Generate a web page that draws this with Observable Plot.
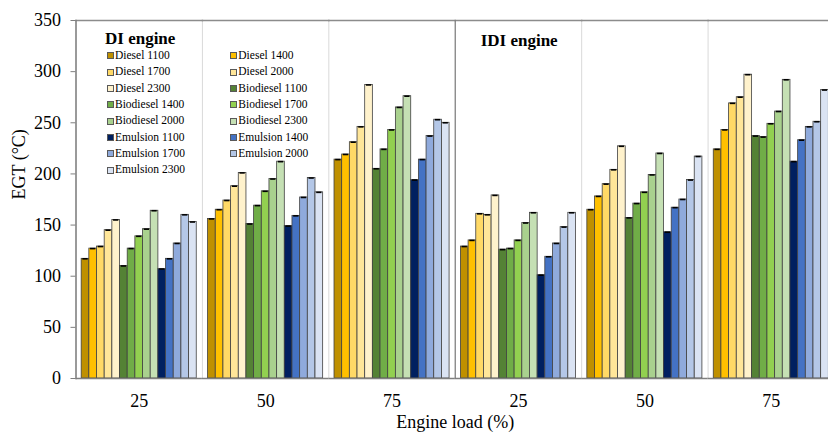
<!DOCTYPE html>
<html><head><meta charset="utf-8">
<script src="https://cdn.jsdelivr.net/npm/d3@7"></script>
<script src="https://cdn.jsdelivr.net/npm/@observablehq/plot@0.6"></script>
<style>
body{margin:0;background:#fff;}
#wrap{position:relative;width:828px;height:433px;font-family:"Liberation Serif","Times New Roman",serif;color:#000;}
#wrap svg{position:absolute;left:0;top:0;}
.leg{position:absolute;font-size:11.5px;line-height:1;white-space:nowrap;}
.sw{position:absolute;width:5px;height:5px;border:1px solid #595959;}
.ttl{position:absolute;font-weight:bold;font-size:17px;line-height:1;white-space:nowrap;}
</style></head><body><div id="wrap"></div>
<script>
// ---- data ----
const groups = ["DI 25", "DI 50", "DI 75", "IDI 25", "IDI 50", "IDI 75"];
const groupLabels = ["25", "50", "75", "25", "50", "75"];
const fuels = ["Diesel", "Biodiesel", "Emulsion"];
const speeds = [1100, 1400, 1700, 2000, 2300];
// rows: groups, columns: speeds
const diesel = [
  [117, 127, 129, 145, 155],
  [156, 165, 174, 188, 201],
  [214, 219, 231, 246, 287],
  [129, 135, 161, 160, 179],
  [165, 178, 190, 204, 227],
  [224, 243, 269, 275, 297]
];
const biodiesel = [
  [110, 127, 139, 146, 164],
  [151, 169, 183, 195, 212],
  [205, 224, 243, 265, 276],
  [126, 127, 135, 152, 162],
  [157, 171, 182, 199, 220],
  [237, 236, 249, 261, 292]
];
const emulsion = [
  [107, 117, 132, 160, 153],
  [149, 159, 177, 196, 182],
  [194, 214, 237, 253, 250],
  [101, 119, 132, 148, 162],
  [143, 167, 175, 194, 217],
  [212, 233, 246, 251, 282]
];
const yTicks = [0, 50, 100, 150, 200, 250, 300, 350];
const seriesColors = [
  "#BF9000", "#FFC000", "#FFD966", "#FFE699", "#FFF2CC",
  "#548235", "#70AD47", "#92D050", "#A9D18E", "#C5E0B4",
  "#002060", "#4472C4", "#8FAADC", "#B4C7E7", "#DAE3F3"
];

const fuelValues = {Diesel: diesel, Biodiesel: biodiesel, Emulsion: emulsion};
const series = fuels.flatMap(f => speeds.map(s => `${f} ${s}`));
const rows = [];
groups.forEach((g, gi) => {
  fuels.forEach(f => {
    speeds.forEach((s, si) => {
      rows.push({group: g, series: `${f} ${s}`, value: fuelValues[f][gi][si]});
    });
  });
});

const plot = Plot.plot({
  width: 828, height: 433,
  marginTop: 20, marginBottom: 55, marginLeft: 75, marginRight: 0,
  style: {fontFamily: "'Liberation Serif', 'Times New Roman', serif", fontSize: "18px", color: "#000", background: "#fff"},
  fx: {domain: groups, range: [75.5, 834], padding: 0, round: false, label: null},
  x: {domain: series, paddingInner: 0, paddingOuter: 0.74, round: false, axis: null},
  y: {domain: [0, 350], label: null},
  color: {domain: series, range: seriesColors},
  marks: [
    Plot.frame({anchor: "left", stroke: "#d9d9d9", strokeWidth: 1}),
    Plot.frame({anchor: "top", stroke: "#8c8c8c", strokeWidth: 1.5}),
    Plot.barY(rows, {fx: "group", x: "series", y: "value", fill: "series", stroke: "#404040", strokeWidth: 0.8}),
    Plot.tickY(rows, {fx: "group", x: "series", y: "value", stroke: "#000", strokeWidth: 1.6, insetLeft: 1.2, insetRight: 1.2}),
    Plot.ruleY([0], {stroke: "#7f7f7f", strokeWidth: 1.5}),
    Plot.frame({anchor: "left", stroke: "#7f7f7f", strokeWidth: 1.5, fx: () => groups[0]}),
    Plot.frame({anchor: "left", stroke: "#7f7f7f", strokeWidth: 1.2, fx: () => groups[3]}),
    Plot.axisY({ticks: yTicks, tickSize: 5, tickPadding: 10, stroke: "#7f7f7f", label: null, fontSize: 18}),
    Plot.axisFx({anchor: "bottom", tickSize: 0, tickPadding: 16, tickFormat: d => groupLabels[groups.indexOf(d)], label: null, fontSize: 18}),
    Plot.text(["Engine load (%)"], {text: d => d, frameAnchor: "bottom", dy: 49, facet: "super", fontSize: 18}),
    Plot.text(["EGT (°C)"], {text: d => d, frameAnchor: "left", dx: -57, rotate: -90, facet: "super", fontSize: 18})
  ]
});

const wrap = document.getElementById("wrap");
wrap.appendChild(plot);

// legend overlay
function addTitle(txt, left, top) {
  const t = document.createElement("div");
  t.className = "ttl"; t.textContent = txt;
  t.style.left = left + "px"; t.style.top = top + "px";
  wrap.appendChild(t);
}
addTitle("DI engine", 105, 29.8);
addTitle("IDI engine", 480.7, 31.8);
series.forEach((s, k) => {
  const col = k % 2, row = Math.floor(k / 2);
  const cy = 55.7 + row * 16.33;
  const sx = col ? 230 : 106.7;
  const tx = col ? 238.3 : 115;
  const sw = document.createElement("div");
  sw.className = "sw";
  sw.style.left = sx + "px"; sw.style.top = (cy - 3.5) + "px";
  sw.style.background = seriesColors[k];
  wrap.appendChild(sw);
  const lb = document.createElement("div");
  lb.className = "leg"; lb.textContent = s;
  lb.style.left = tx + "px"; lb.style.top = (cy - 5.8) + "px";
  wrap.appendChild(lb);
});
</script>
</body></html>
